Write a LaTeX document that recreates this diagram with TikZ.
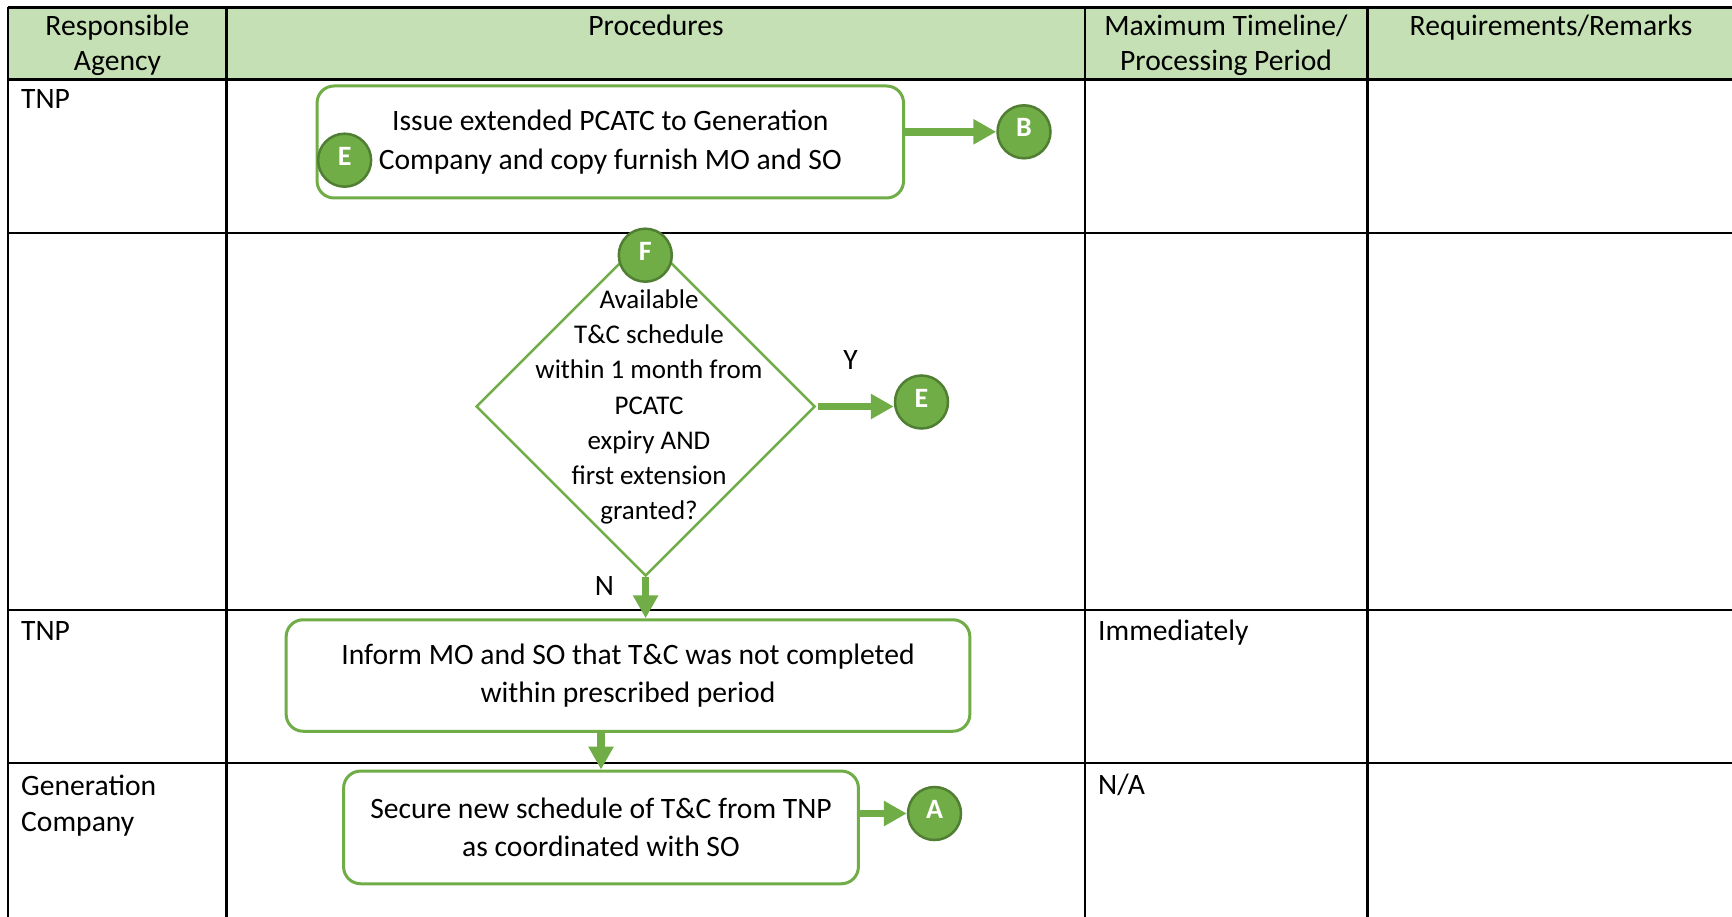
\documentclass[tikz,border=0pt]{standalone}
\usepackage{fontspec}
\setmainfont{Carlito}
\usetikzlibrary{arrows.meta,shapes.geometric}
\definecolor{hdr}{HTML}{C5E0B4}
\definecolor{grn}{HTML}{70AD47}
\definecolor{dgrn}{HTML}{507E32}
\begin{document}
\begin{tikzpicture}[x=1pt,y=-1pt,
  txt/.style={font=\fontsize{29.6}{35.4}\selectfont, inner sep=0pt},
  tbl/.style={line width=2.5pt, black},
  procbox/.style={draw=grn, line width=3pt, rounded corners=17pt, fill=white, align=center, inner sep=0pt, font=\fontsize{29.6}{38.7}\selectfont},
  decision/.style={diamond, draw=grn, line width=2.5pt, fill=white, inner sep=0pt, minimum width=339pt, minimum height=339pt},
  conn/.style={circle, fill=grn, draw=dgrn, line width=2.5pt, minimum size=53pt, inner sep=0pt, text=white, text height=14pt, text depth=4pt, font=\fontsize{28}{30}\selectfont\bfseries},
  flow/.style={grn, line width=7.5pt, -{Triangle[length=23pt,width=24pt]}},
  lbl/.style={txt}]
\useasboundingbox (0,0) rectangle (1732,917);
% table
\fill[hdr] (8,7.5) rectangle (1740,79.5);
\foreach \yy in {7.5,79.5,233,610,763} \draw[tbl] (8,\yy) -- (1740,\yy);
\foreach \xx in {8,226.5,1085,1367.5} \draw[tbl] (\xx,7.5) -- (\xx,925);
% header
\node[txt, align=center] (h1) at (117.5,45) {Responsible\\Agency};
\node[txt, anchor=base] (h2) at (656,35.5) {Procedures};
\node[txt, align=center] (h3) at (1226,45) {Maximum Timeline/\\Processing Period};
\node[txt, anchor=base] (h4) at (1551,35.5) {Requirements/Remarks};
% cells
\node[txt, anchor=base west] (c1) at (21,108.7) {TNP};
\node[txt, anchor=base west] (c2) at (21,640.8) {TNP};
\node[txt, anchor=north west, align=left, font=\fontsize{29.6}{36.5}\selectfont] (c3) at (21,774.5) {Generation\\Company};
\node[txt, anchor=base west] (c4) at (1098,640.8) {Immediately};
\node[txt, anchor=base west] (c5) at (1098,794.5) {N/A};
% flow
\node[procbox, minimum width=586.5pt, minimum height=112pt] (b1) at (610.3,142) {Issue extended PCATC to Generation\\Company and copy furnish MO and SO};
\node[decision] (d) at (645.6,406.5) {};
\node[txt, align=center, font=\fontsize{27}{35.2}\selectfont] (dt) at (649,407) {Available\\T\&C schedule\\within 1 month from\\PCATC\\expiry AND\\first extension\\granted?};
\node[procbox, minimum width=683.7pt, minimum height=111.5pt] (b2) at (628,675.5) {Inform MO and SO that T\&C was not completed\\within prescribed period};
\node[procbox, minimum width=514.8pt, minimum height=112.7pt] (b3) at (601,827.4) {Secure new schedule of T\&C from TNP\\as coordinated with SO};
\node[conn] (cE1) at (344.6,160.2) {E};
\node[conn] (cB) at (1024,131.8) {B};
\node[conn] (cF) at (645.3,255.2) {F};
\node[conn] (cE2) at (921.5,402) {E};
\node[conn] (cA) at (934.5,813.5) {A};
\node[lbl] (ly) at (850.5,360) {Y};
\node[lbl] (ln) at (604.5,586.5) {N};
\draw[flow] (b1.east |- cB.west) -- (cB.west);
\draw[flow] ([xshift=2pt]d.east) -- (d.east -| cE2.west);
\draw[flow] (d.south) -- (d.south |- b2.north);
\draw[flow] (b3.north |- b2.south) -- (b3.north);
\draw[flow] (b3.east |- cA.west) -- (cA.west);
\end{tikzpicture}
\end{document}
